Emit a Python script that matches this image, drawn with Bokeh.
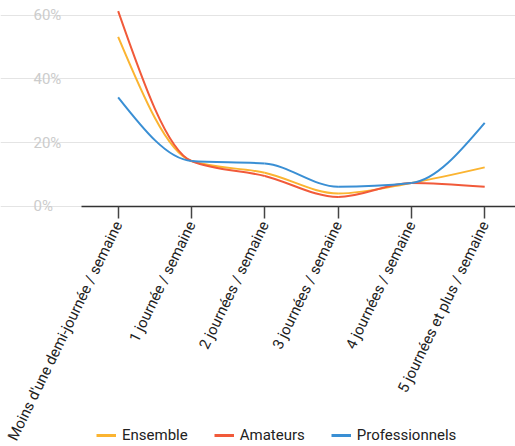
import math
from bokeh.plotting import figure
from bokeh.models import (Range1d, FixedTicker, PrintfTickFormatter, Legend, LegendItem)
from bokeh.embed import file_html
from bokeh.resources import INLINE

categories = [
    "Moins d'une demi-journée / semaine",
    "1 journée / semaine",
    "2 journées / semaine",
    "3 journées / semaine",
    "4 journées / semaine",
    "5 journées et plus / semaine",
]
ensemble = [53.2, 14.2, 10.5, 4.0, 7.3, 12.2]
amateurs = [61.3, 14.2, 9.5, 2.9, 7.3, 6.1]
professionnels = [34.2, 14.2, 13.4, 6.1, 7.3, 26.2]
y_ticks = [0, 20, 40, 60]

series = [
    ("Ensemble", ensemble, "#fbb431"),
    ("Amateurs", amateurs, "#f15a3a"),
    ("Professionnels", professionnels, "#3a8fd4"),
]


def monotone_controls(ys):
    """Control points for a monotone cubic (d3 curveMonotoneX style) path."""
    n = len(ys)
    xs = list(range(n))
    s = [(ys[i + 1] - ys[i]) / (xs[i + 1] - xs[i]) for i in range(n - 1)]
    m = [0.0] * n
    for i in range(1, n - 1):
        if s[i - 1] * s[i] <= 0:
            m[i] = 0.0
        else:
            pm = (s[i - 1] + s[i]) / 2
            m[i] = (math.copysign(1, s[i - 1]) + math.copysign(1, s[i])) * min(abs(s[i - 1]), abs(s[i]), 0.5 * abs(pm))
    m[0] = (3 * s[0] - m[1]) / 2
    m[-1] = (3 * s[-1] - m[-2]) / 2
    out = dict(x0=[], y0=[], x1=[], y1=[], cx0=[], cy0=[], cx1=[], cy1=[])
    for i in range(n - 1):
        h = xs[i + 1] - xs[i]
        out["x0"].append(xs[i]); out["y0"].append(ys[i])
        out["x1"].append(xs[i + 1]); out["y1"].append(ys[i + 1])
        out["cx0"].append(xs[i] + h / 3); out["cy0"].append(ys[i] + m[i] * h / 3)
        out["cx1"].append(xs[i + 1] - h / 3); out["cy1"].append(ys[i + 1] - m[i + 1] * h / 3)
    return out


# Frame spans the whole window; axes are pinned inside it.
p = figure(frame_width=515, frame_height=444, output_backend="svg", toolbar_location=None,
           x_range=Range1d(-1.605, 5.42), y_range=Range1d(-75.5, 64),
           y_axis_location="right",
           min_border_left=0, min_border_top=2, min_border_right=0, min_border_bottom=0)
p.outline_line_color = None
p.background_fill_color = "white"
p.border_fill_color = "white"

# y grid (drawn first)
p.xgrid.grid_line_color = None
p.ygrid.ticker = FixedTicker(ticks=y_ticks)
p.ygrid.grid_line_color = "#e4e4e4"
p.ygrid.grid_line_width = 1
p.ygrid.bounds = (-0.5, 5.42)

items = []
for name, vals, color in series:
    c = monotone_controls(vals)
    p.bezier(x0=c["x0"], y0=c["y0"], x1=c["x1"], y1=c["y1"],
             cx0=c["cx0"], cy0=c["cy0"], cx1=c["cx1"], cy1=c["cy1"],
             line_color=color, line_width=2)
    r = p.line(x=[0, 0], y=[-200, -200], line_color=color, line_width=3)
    items.append(LegendItem(label=name, renderers=[r]))

# x axis
p.xaxis.fixed_location = 0
p.xaxis.bounds = (-0.5, 5.42)
p.xaxis.ticker = FixedTicker(ticks=list(range(len(categories))))
p.xaxis.major_label_overrides = {i: c for i, c in enumerate(categories)}
p.xaxis.major_label_orientation = math.radians(64)
p.xaxis.major_label_text_font = "Roboto"
p.xaxis.major_label_text_font_size = "15px"
p.xaxis.major_label_text_color = "#222222"
p.xaxis.axis_line_color = "#333333"
p.xaxis.axis_line_width = 1.5
p.xaxis.major_tick_line_color = "#444444"
p.xaxis.major_tick_line_width = 1.5
p.xaxis.major_tick_out = 12
p.xaxis.major_tick_in = 0
p.xaxis.minor_tick_line_color = None
p.xaxis.major_label_standoff = 4

# y axis (pinned at the left edge of the plotting area)
p.yaxis.fixed_location = -0.5
p.yaxis.ticker = FixedTicker(ticks=y_ticks)
p.yaxis.formatter = PrintfTickFormatter(format="%d%%")
p.yaxis.axis_line_color = None
p.yaxis.major_tick_line_color = None
p.yaxis.major_tick_out = 0
p.yaxis.major_tick_in = 0
p.yaxis.minor_tick_line_color = None
p.yaxis.minor_tick_out = 0
p.yaxis.major_label_text_font = "Roboto"
p.yaxis.major_label_text_font_size = "15px"
p.yaxis.major_label_text_color = "#cccccc"
p.yaxis.major_label_standoff = -48

legend = Legend(items=items, orientation="horizontal", location=(96, 2),
                label_text_font="Roboto", label_text_font_size="15px",
                label_text_color="#222222", glyph_width=20, glyph_height=14,
                label_standoff=6, spacing=26, padding=0, margin=0,
                border_line_color=None, background_fill_alpha=0)
p.add_layout(legend, "center")

open("out.html", "w").write(file_html(p, INLINE))
